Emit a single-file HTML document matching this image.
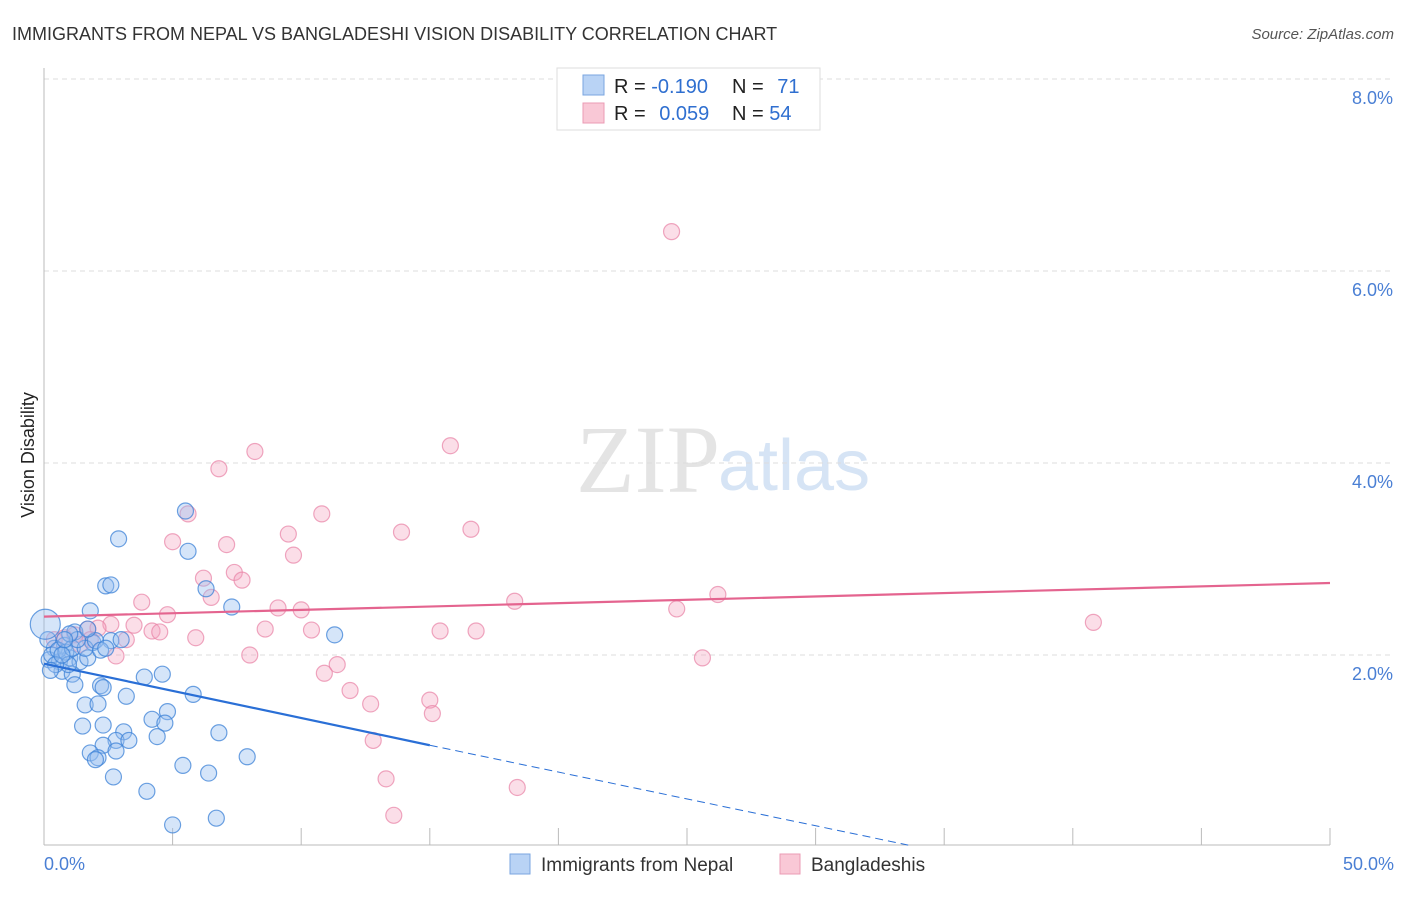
<!DOCTYPE html>
<html><head><meta charset="utf-8">
<style>
body{margin:0;background:#fff;font-family:"Liberation Sans",sans-serif;}
</style></head><body>
<svg width="1406" height="892" xmlns="http://www.w3.org/2000/svg" style="font-family:'Liberation Sans',sans-serif">
<text x="12" y="40" font-size="18" fill="#333">IMMIGRANTS FROM NEPAL VS BANGLADESHI VISION DISABILITY CORRELATION CHART</text>
<text x="1394" y="39" font-size="15" fill="#555" font-style="italic" text-anchor="end">Source: ZipAtlas.com</text>
<text x="720" y="492" font-size="96" fill="#e4e4e4" font-family="Liberation Serif,serif" text-anchor="end">ZIP</text>
<text x="718" y="490" font-size="72" fill="#d6e4f5">atlas</text>
<g id="grid"></g>
<line x1="44" y1="68" x2="44" y2="845" stroke="#bbb"/>
<line x1="44" y1="845" x2="1330" y2="845" stroke="#bbb"/>
<g id="xticks"></g>
<text transform="translate(34,455) rotate(-90)" font-size="18" fill="#222" text-anchor="middle">Vision Disability</text>
<text x="44" y="870" font-size="18" fill="#4a7fd4">0.0%</text>
<text x="1394" y="870" font-size="18" fill="#4a7fd4" text-anchor="end">50.0%</text>
<g id="pts"></g>
<g id="lines"></g>
<g>
<rect x="557" y="68" width="263" height="62" fill="#fff" stroke="#ddd"/>
<rect x="583" y="75" width="21" height="20" fill="#b9d3f5" stroke="#7aa6e0"/>
<rect x="583" y="103" width="21" height="20" fill="#f9c8d6" stroke="#eb9bb4"/>
<text x="614" y="93" font-size="20" fill="#222">R = <tspan fill="#2f6fd0">-0.190</tspan></text>
<text x="732" y="93" font-size="20" fill="#222">N = <tspan fill="#2f6fd0" dx="8">71</tspan></text>
<text x="614" y="120" font-size="20" fill="#222">R = <tspan fill="#2f6fd0" dx="8">0.059</tspan></text>
<text x="732" y="120" font-size="20" fill="#222">N = <tspan fill="#2f6fd0">54</tspan></text>
</g>
<g>
<rect x="510" y="854" width="20" height="20" fill="#b9d3f5" stroke="#7aa6e0"/>
<text x="541" y="871" font-size="19" fill="#333">Immigrants from Nepal</text>
<rect x="780" y="854" width="20" height="20" fill="#f9c8d6" stroke="#eb9bb4"/>
<text x="811" y="871" font-size="19" fill="#333">Bangladeshis</text>
</g>
</svg>
<script>
const yTicks=[2,4,6,8];
const xTickVals=[0,5,10,15,20,25,30,35,40,45,50];
const nepalX=[5.5,2.9,5.6,2.4,2.6,6.3,7.3,1.8,11.3,2.6,1.9,1.2,0.8,0.4,0.2,0.6,1.0,1.4,1.7,0.7,1.1,1.2,3.9,4.6,2.2,2.3,3.2,5.8,1.6,2.1,4.2,4.8,4.7,2.3,1.5,3.1,4.4,6.8,2.8,3.3,2.3,1.8,2.1,2.0,2.8,7.9,5.4,6.4,2.7,4.0,6.7,5.0,0.15,0.3,0.55,0.85,0.05,1.1,1.6,2.0,0.95,0.45,0.7,1.3,2.2,3.0,2.4,1.0,1.7,0.8,0.25];
const nepalY=[3.5,3.21,3.08,2.72,2.73,2.69,2.50,2.46,2.21,2.15,2.13,2.24,2.10,2.07,1.95,1.93,1.97,1.93,1.97,1.83,1.80,1.69,1.77,1.80,1.68,1.66,1.57,1.59,1.48,1.49,1.33,1.41,1.29,1.27,1.26,1.20,1.15,1.19,1.11,1.11,1.06,0.98,0.93,0.91,1.00,0.94,0.85,0.77,0.73,0.58,0.30,0.23,2.16,2.0,2.05,2.03,2.32,2.07,2.07,2.15,1.90,1.90,2.0,2.16,2.05,2.16,2.07,2.22,2.27,2.16,1.84];
const banglaX=[24.4,15.8,8.2,6.8,5.6,10.8,16.6,13.9,9.5,5.0,7.1,9.7,6.2,7.4,7.7,6.5,3.8,4.8,9.1,10.0,18.3,26.2,24.6,40.8,2.6,3.5,4.2,4.5,8.6,10.4,15.4,16.8,5.9,3.2,1.7,2.1,1.2,0.8,0.4,2.8,8.0,25.6,11.4,10.9,11.9,12.7,15.0,15.1,12.8,13.3,18.4,13.6,1.4,1.8];
const banglaY=[6.41,4.18,4.12,3.94,3.47,3.47,3.31,3.28,3.26,3.18,3.15,3.04,2.80,2.86,2.78,2.60,2.55,2.42,2.49,2.47,2.56,2.63,2.48,2.34,2.32,2.31,2.25,2.24,2.27,2.26,2.25,2.25,2.18,2.16,2.27,2.28,2.21,2.18,2.16,1.99,2.0,1.97,1.90,1.81,1.63,1.49,1.53,1.39,1.11,0.71,0.62,0.33,2.11,2.16];
const nepalTrend=[[0,1.91],[15,1.06]];
const nepalDash=[[15,1.06],[33.6,0.02]];
const banglaTrend=[[0,2.40],[50,2.75]];
const X=v=>44+v/50*1286, Y=v=>847-v*96;
const NS='http://www.w3.org/2000/svg';
function mk(t,a,p){const e=document.createElementNS(NS,t);for(const k in a)e.setAttribute(k,a[k]);p.appendChild(e);return e;}
const grid=document.getElementById('grid');
yTicks.forEach(t=>{
 const l=mk('line',{x1:44,x2:1394,y1:Y(t),y2:Y(t),stroke:'#ddd','stroke-dasharray':'5,4'},grid);
 
 
 const tx=mk('text',{x:1393,y:Y(t)+25,'font-size':18,fill:'#4a7fd4','text-anchor':'end'},grid);
 tx.textContent=t.toFixed(1)+'%';
 
 
});
const xt=document.getElementById('xticks');
xTickVals.forEach(v=>{
 const l=mk('line',{x1:X(v),x2:X(v),y1:828,y2:845,stroke:'#bbb'},xt);
 
 
});
const pts=document.getElementById('pts');
banglaX.forEach((x,i)=>{
 const c=mk('circle',{cx:X(x),cy:Y(banglaY[i]),r:8,fill:'rgba(244,160,188,0.35)',stroke:'rgba(232,130,165,0.7)','stroke-width':1.2},pts);
 
 
});
nepalX.forEach((x,i)=>{
 const c=mk('circle',{cx:X(x),cy:Y(nepalY[i]),r:i==56?15:8,fill:'rgba(150,190,240,0.4)',stroke:'rgba(60,130,215,0.75)','stroke-width':1.2},pts);
 
 
});
const ln=document.getElementById('lines');
let a=mk('line',{x1:X(nepalTrend[0][0]),y1:Y(nepalTrend[0][1]),x2:X(nepalTrend[1][0]),y2:Y(nepalTrend[1][1]),stroke:'#2a6fd6','stroke-width':2.2},ln);


a=mk('line',{x1:X(nepalDash[0][0]),y1:Y(nepalDash[0][1]),x2:X(nepalDash[1][0]),y2:Y(nepalDash[1][1]),stroke:'#2a6fd6','stroke-width':1,'stroke-dasharray':'8,5'},ln);


a=mk('line',{x1:X(banglaTrend[0][0]),y1:Y(banglaTrend[0][1]),x2:X(banglaTrend[1][0]),y2:Y(banglaTrend[1][1]),stroke:'#e4648f','stroke-width':2.2},ln);


</script>
</body></html>
